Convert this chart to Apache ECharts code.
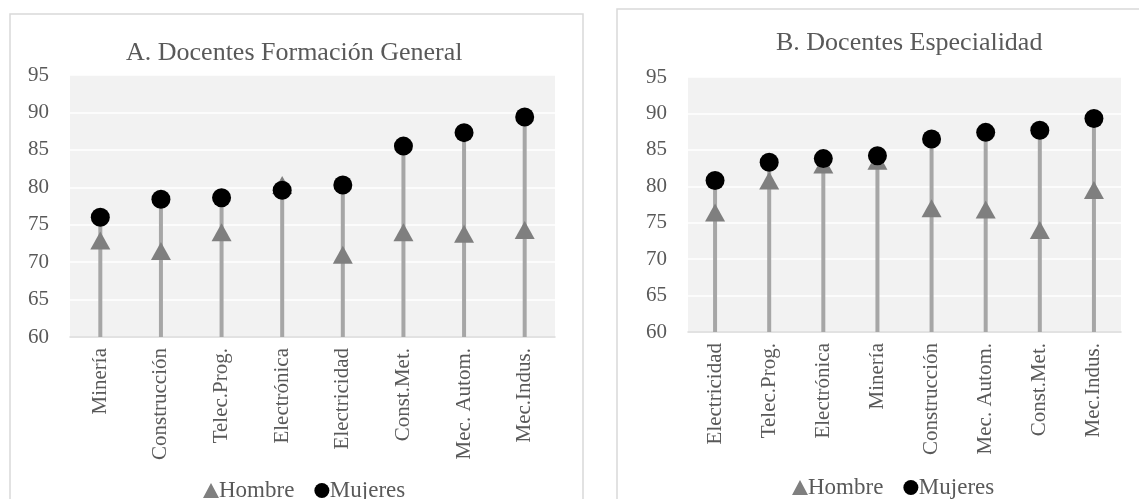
<!DOCTYPE html>
<html><head><meta charset="utf-8">
<script src="https://cdn.jsdelivr.net/npm/echarts@6/dist/echarts.min.js"></script>
<style>html,body{margin:0;padding:0;background:#fff}#c{width:1139px;height:499px}</style>
</head><body><div id="c"></div>
<script>
const titleA = 'A. Docentes Formación General';
const titleB = 'B. Docentes Especialidad';
const catsA = ['Minería','Construcción','Telec.Prog.','Electrónica','Electricidad','Const.Met.','Mec. Autom.','Mec.Indus.'];
const hombreA = [72.9, 71.5, 74.0, 80.3, 71.0, 74.0, 73.8, 74.3];
const mujeresA = [76.0, 78.4, 78.6, 79.6, 80.3, 85.5, 87.3, 89.4];
const catsB = ['Electricidad','Telec.Prog.','Electrónica','Minería','Construcción','Mec. Autom.','Const.Met.','Mec.Indus.'];
const hombreB = [76.4, 80.8, 83.0, 83.5, 77.0, 76.8, 74.0, 79.5];
const mujeresB = [80.8, 83.3, 83.8, 84.2, 86.5, 87.4, 87.7, 89.3];
const yMin = 60, yMax = 95, yStep = 5;
const seriesNames = ['Hombre','Mujeres'];

const FONT = '"Liberation Serif", "DejaVu Serif", serif';
const TXT = '#595959';
const chart = echarts.init(document.getElementById('c'), null, {renderer:'canvas'});

function xAxis(idx, cats){
  return {type:'category', gridIndex:idx, data:cats,
    axisLine:{lineStyle:{color:'#d9d9d9', width:1.5}},
    axisTick:{show:false},
    axisLabel:{rotate:90, margin:11, fontSize:21, fontFamily:FONT, color:TXT, interval:0}};
}
function yAxis(idx){
  return {type:'value', gridIndex:idx, min:yMin, max:yMax, interval:yStep,
    axisLine:{show:false}, axisTick:{show:false},
    splitLine:{lineStyle:{color:'#ffffff', width:1.5}},
    axisLabel:{margin:21, fontSize:21, fontFamily:FONT, color:TXT}};
}
function seriesFor(idx, h, m){
  const stem = h.map((v,i)=>Math.max(v, m[i]));
  return [
    {name:'stem', type:'bar', xAxisIndex:idx, yAxisIndex:idx, data:stem, barWidth:4,
      itemStyle:{color:'#a6a6a6'}, silent:true, z:2},
    {name:seriesNames[0], type:'scatter', xAxisIndex:idx, yAxisIndex:idx, data:h,
      symbol:'triangle', symbolSize:[20,18], itemStyle:{color:'#7f7f7f', opacity:1}, z:3},
    {name:seriesNames[1], type:'scatter', xAxisIndex:idx, yAxisIndex:idx, data:m,
      symbol:'circle', symbolSize:19, itemStyle:{color:'#000000', opacity:1}, z:4}
  ];
}
function legend(left, top){
  return {left:left, top:top, itemWidth:16, itemHeight:15, itemGap:20,
    textStyle:{fontSize:23, fontFamily:FONT, color:TXT, padding:[0,0,0,-5]},
    data:[{name:seriesNames[0], icon:'triangle'},{name:seriesNames[1], icon:'circle'}]};
}

chart.setOption({
  animation:false,
  backgroundColor:'#ffffff',
  graphic:[
    {type:'rect', shape:{x:10, y:14, width:573, height:520}, style:{fill:'none', stroke:'#d9d9d9', lineWidth:1.5}},
    {type:'rect', shape:{x:617, y:9, width:540, height:520}, style:{fill:'none', stroke:'#d9d9d9', lineWidth:1.5}}
  ],
  title:[
    {text:titleA, left:126, top:40, padding:0, textStyle:{fontSize:26, fontWeight:'normal', fontFamily:FONT, color:TXT}},
    {text:titleB, left:776, top:30, padding:0, textStyle:{fontSize:26, fontWeight:'normal', fontFamily:FONT, color:TXT}}
  ],
  legend:[legend(198, 474), legend(787, 471)],
  grid:[
    {left:70, top:75, width:485, height:262, show:true, backgroundColor:'#f2f2f2', borderWidth:0},
    {left:688, top:77, width:433, height:255, show:true, backgroundColor:'#f2f2f2', borderWidth:0}
  ],
  xAxis:[xAxis(0, catsA), xAxis(1, catsB)],
  yAxis:[yAxis(0), yAxis(1)],
  series:[...seriesFor(0, hombreA, mujeresA), ...seriesFor(1, hombreB, mujeresB)]
});
</script></body></html>
